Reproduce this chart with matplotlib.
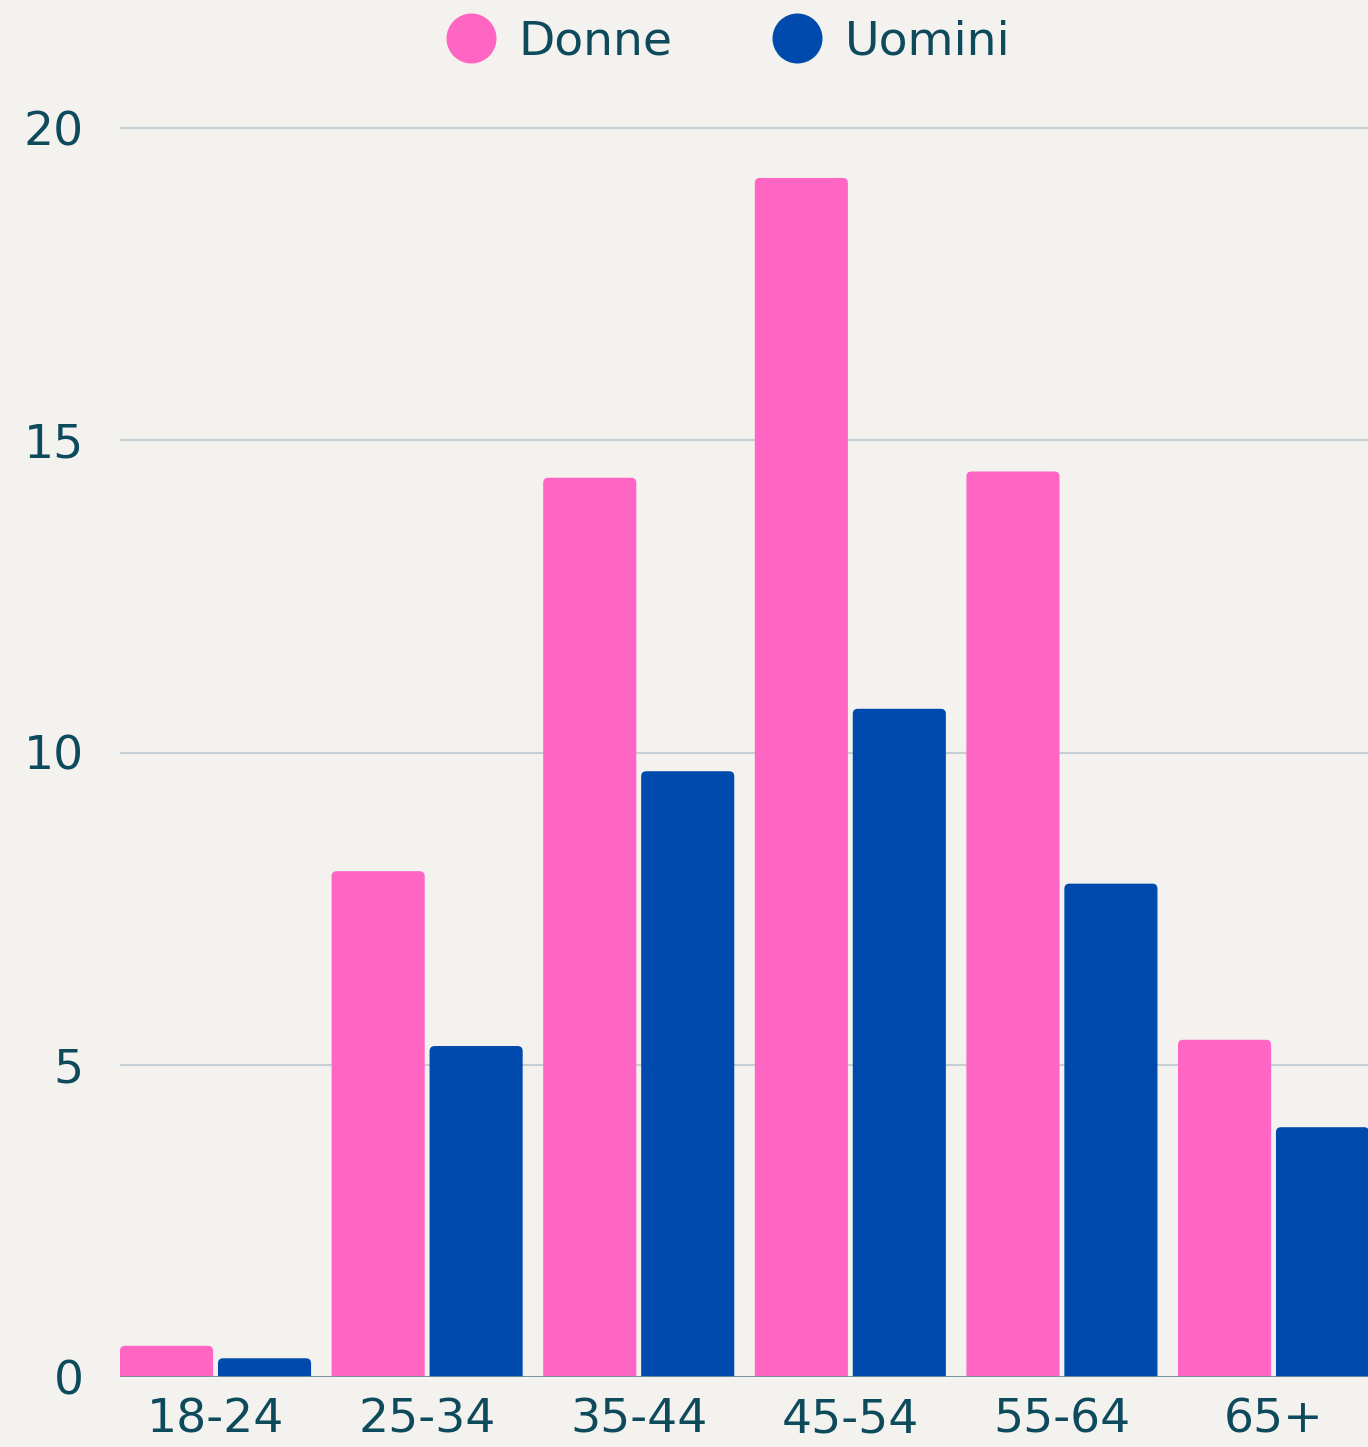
import matplotlib.pyplot as plt
from matplotlib.patches import FancyBboxPatch
from matplotlib.lines import Line2D
import numpy as np

#---data-----
categories = ["18-24", "25-34", "35-44", "45-54", "55-64", "65+"]
donne = [0.5, 8.1, 14.4, 19.2, 14.5, 5.4]
uomini = [0.3, 5.3, 9.7, 10.7, 7.9, 4.0]
yticks = [0, 5, 10, 15, 20]

#---style-----
bg = "#f4f2ef"
pink = "#ff66c4"
blue = "#004aad"
txt = "#0d4a5c"
grid_c = "#c3cfd5"

plt.rcParams['font.family'] = ['DejaVu Sans']

fig = plt.figure(figsize=(13.68, 14.47), dpi=100)
fig.patch.set_facecolor(bg)

ymax = 20.3
px_per_unit = (1377 - 128) / 20
ax = fig.add_axes([120 / 1368, 70 / 1447, 1 - 120 / 1368, ymax * px_per_unit / 1447])
ax.set_facecolor(bg)

x = np.arange(len(categories))
w = 0.44
b1 = ax.bar(x - 0.451, donne, width=w, align='edge', color=pink, zorder=3)
b2 = ax.bar(x + 0.012, uomini, width=w, align='edge', color=blue, zorder=3)

#---rounded tops-----
aspect = 211.6 / px_per_unit
for bars in (b1, b2):
    for r in bars:
        xx, yy = r.get_x(), r.get_y()
        ww, hh = r.get_width(), r.get_height()
        p = FancyBboxPatch((xx, yy - 0.3), ww, hh + 0.3,
                           boxstyle="round,pad=0,rounding_size=0.024",
                           mutation_aspect=aspect,
                           facecolor=r.get_facecolor(), edgecolor='none', zorder=3)
        ax.add_patch(p)
        r.remove()

ax.set_xlim(-0.451, 5.447)
ax.set_ylim(0, ymax)
ax.set_yticks(yticks)
ax.set_xticks(x)
ax.set_xticklabels(categories)
ax.tick_params(axis='both', length=0, labelsize=34, labelcolor=txt)
ax.tick_params(axis='y', pad=26)
ax.tick_params(axis='x', pad=15)
for s in ax.spines.values():
    s.set_visible(False)
ax.yaxis.grid(True, color=grid_c, linewidth=1.5, zorder=0)
ax.axhline(0, color="#6e8f99", linewidth=2, zorder=4)

#---legend-----
handles = [Line2D([], [], marker='o', linestyle='none', markersize=35, color=pink),
           Line2D([], [], marker='o', linestyle='none', markersize=35, color=blue)]
fig.legend(handles, ["Donne", "Uomini"], loc='center', bbox_to_anchor=(724 / 1368, 1 - 42 / 1447),
           ncol=2, frameon=False, fontsize=34, labelcolor=txt,
           handlelength=1.4, handletextpad=0.3, columnspacing=1.95)

fig.savefig("out.png", dpi=100, facecolor=bg)
